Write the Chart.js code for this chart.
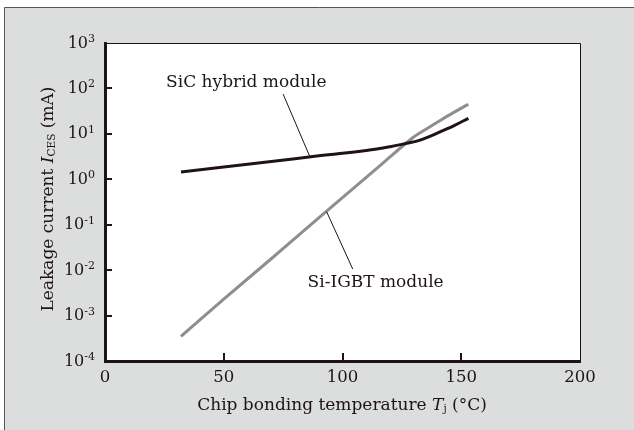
<!DOCTYPE html>
<html>
<head>
<meta charset="utf-8">
<script src="https://cdn.jsdelivr.net/npm/chart.js@4.4.1/dist/chart.umd.min.js"></script>
<style>
  html, body { margin: 0; padding: 0; background: #fff; }
  canvas { display: block; }
</style>
</head>
<body>
<canvas id="chart" width="634" height="430"></canvas>
<script>
// values (temperature in degC, current in mA)
const sicTemp = [32, 50, 70, 90, 110, 120, 127, 132, 137, 142, 147, 153];
const sicCurrent = [1.45, 1.86, 2.45, 3.3, 4.3, 5.2, 6.2, 7.1, 8.9, 11.6, 15.2, 22];
const igbtTemp = [32, 50, 70, 90, 110, 120, 125, 130, 136, 142, 148, 153];
const igbtCurrent = [0.00035, 0.0023, 0.0178, 0.141, 1.1, 3.1, 5.2, 8.5, 13.5, 21, 32, 45];

const xTicks = [0, 50, 100, 150, 200];
const yTicks = [1e-4, 1e-3, 1e-2, 1e-1, 1, 10, 100, 1000];
const yExponents = ['-4', '-3', '-2', '-1', '0', '1', '2', '3'];

// callout labels: [text, x, y] and leader lines [x1, y1, x2, y2] in data units
const sicLabel = ['SiC hybrid module', 59.5, 132];
const sicLeader = [75, 75, 86.3, 3.1];
const igbtLabel = ['Si-IGBT module', 85.3, 0.0052];
const igbtLeader = [93.3, 0.194, 104.3, 0.0106];

const ink = '#1e1512';
const serif = '"DejaVu Serif", serif';

function pts(xs, ys) {
    return xs.map((x, i) => ({ x: x, y: ys[i] }));
}

const decorations = {
    id: 'decorations',
    beforeDraw(chart) {
        const ctx = chart.ctx, a = chart.chartArea;
        ctx.save();
        ctx.fillStyle = '#fff';
        ctx.fillRect(0, 0, chart.width, chart.height);
        ctx.fillStyle = '#dcdddd';
        ctx.fillRect(4, 7, chart.width, chart.height);
        ctx.strokeStyle = '#555';
        ctx.lineWidth = 1;
        ctx.beginPath();
        ctx.moveTo(4.5, chart.height);
        ctx.lineTo(4.5, 7.5);
        ctx.lineTo(chart.width, 7.5);
        ctx.stroke();
        ctx.fillStyle = '#fff';
        ctx.fillRect(a.left, a.top, a.width, a.height);
        ctx.restore();
    },
    afterDraw(chart) {
        const ctx = chart.ctx, a = chart.chartArea;
        const xs = chart.scales.x, ys = chart.scales.y;
        ctx.save();

        // thin frame top / right
        ctx.strokeStyle = ink;
        ctx.lineWidth = 1;
        ctx.beginPath();
        ctx.moveTo(a.left, a.top + 0.5);
        ctx.lineTo(a.right + 0.5, a.top + 0.5);
        ctx.lineTo(a.right + 0.5, a.bottom + 2);
        ctx.stroke();

        // inward ticks
        ctx.lineWidth = 2;
        ctx.beginPath();
        yTicks.forEach(v => {
            const py = Math.round(ys.getPixelForValue(v));
            if (py <= a.top + 1) return;
            ctx.moveTo(a.left, py);
            ctx.lineTo(a.left + 7, py);
        });
        xTicks.forEach(v => {
            const px = Math.round(xs.getPixelForValue(v));
            if (px <= a.left + 1 || px >= a.right - 1) return;
            ctx.moveTo(px, a.bottom);
            ctx.lineTo(px, a.bottom - 8);
        });
        ctx.stroke();

        // y tick labels with superscript exponents
        ctx.fillStyle = ink;
        ctx.textBaseline = 'alphabetic';
        ctx.textAlign = 'left';
        yTicks.forEach((v, i) => {
            const py = ys.getPixelForValue(v);
            ctx.font = '11px ' + serif;
            const ew = ctx.measureText(yExponents[i]).width;
            ctx.font = '16px ' + serif;
            const bw = ctx.measureText('10').width;
            const right = a.left - 10;
            ctx.fillText('10', right - ew - bw, py + 4.5);
            ctx.font = '11px ' + serif;
            ctx.fillText(yExponents[i], right - ew, py - 1);
        });

        // y axis title
        ctx.save();
        ctx.translate(49, 199);
        ctx.rotate(-Math.PI / 2);
        drawRich(ctx, [
            ['Leakage current ', '17px', false, 0],
            ['I', '17px', true, 0],
            ['CES', '10.5px', false, 3],
            [' (mA)', '17px', false, 0]
        ], 0, 0);
        ctx.restore();

        // x axis title
        drawRich(ctx, [
            ['Chip bonding temperature ', '17px', false, 0],
            ['T', '17px', true, 0],
            ['j', '10.5px', false, 3],
            [' (\u00B0C)', '17px', false, 0]
        ], 342, 406);

        // callouts
        ctx.lineWidth = 1;
        ctx.beginPath();
        [sicLeader, igbtLeader].forEach(l => {
            ctx.moveTo(xs.getPixelForValue(l[0]), ys.getPixelForValue(l[1]));
            ctx.lineTo(xs.getPixelForValue(l[2]), ys.getPixelForValue(l[3]));
        });
        ctx.stroke();
        ctx.font = '17px ' + serif;
        ctx.textBaseline = 'middle';
        ctx.textAlign = 'center';
        ctx.fillText(sicLabel[0], xs.getPixelForValue(sicLabel[1]), ys.getPixelForValue(sicLabel[2]));
        ctx.textAlign = 'left';
        ctx.fillText(igbtLabel[0], xs.getPixelForValue(igbtLabel[1]), ys.getPixelForValue(igbtLabel[2]));

        ctx.restore();
    }
};

// draws pieces of mixed text centred on (cx, cy)
function drawRich(ctx, parts, cx, cy) {
    let total = 0;
    parts.forEach(p => {
        ctx.font = (p[2] ? 'italic ' : '') + p[1] + ' ' + serif;
        total += ctx.measureText(p[0]).width;
    });
    let x = cx - total / 2;
    ctx.textAlign = 'left';
    ctx.textBaseline = 'middle';
    ctx.fillStyle = ink;
    parts.forEach(p => {
        ctx.font = (p[2] ? 'italic ' : '') + p[1] + ' ' + serif;
        ctx.fillText(p[0], x, cy + p[3]);
        x += ctx.measureText(p[0]).width;
    });
}

new Chart(document.getElementById('chart'), {
    type: 'line',
    data: {
        datasets: [
            {
                label: 'SiC hybrid module',
                data: pts(sicTemp, sicCurrent),
                borderColor: ink,
                borderWidth: 3,
                pointRadius: 0,
                tension: 0.4,
                fill: false
            },
            {
                label: 'Si-IGBT module',
                data: pts(igbtTemp, igbtCurrent),
                borderColor: '#8e8e8e',
                borderWidth: 3,
                pointRadius: 0,
                cubicInterpolationMode: 'monotone',
                fill: false
            }
        ]
    },
    options: {
        responsive: false,
        animation: false,
        layout: { padding: { left: 0, top: 43, right: 54, bottom: 0 } },
        plugins: {
            legend: { display: false },
            tooltip: { enabled: false }
        },
        scales: {
            x: {
                type: 'linear',
                min: 0,
                max: 200,
                afterFit: scale => { scale.height = 69; },
                afterBuildTicks: scale => { scale.ticks = xTicks.map(v => ({ value: v })); },
                grid: { display: false, drawTicks: false },
                border: { display: true, width: 3, color: ink },
                ticks: {
                    padding: 7,
                    color: ink,
                    font: { family: serif, size: 16.5 }
                }
            },
            y: {
                type: 'logarithmic',
                min: 1e-4,
                max: 1e3,
                afterFit: scale => { scale.width = 105; },
                afterBuildTicks: scale => { scale.ticks = yTicks.map(v => ({ value: v })); },
                grid: { display: false, drawTicks: false },
                border: { display: true, width: 3, color: ink },
                ticks: { display: false }
            }
        }
    },
    plugins: [decorations]
});
</script>
</body>
</html>
